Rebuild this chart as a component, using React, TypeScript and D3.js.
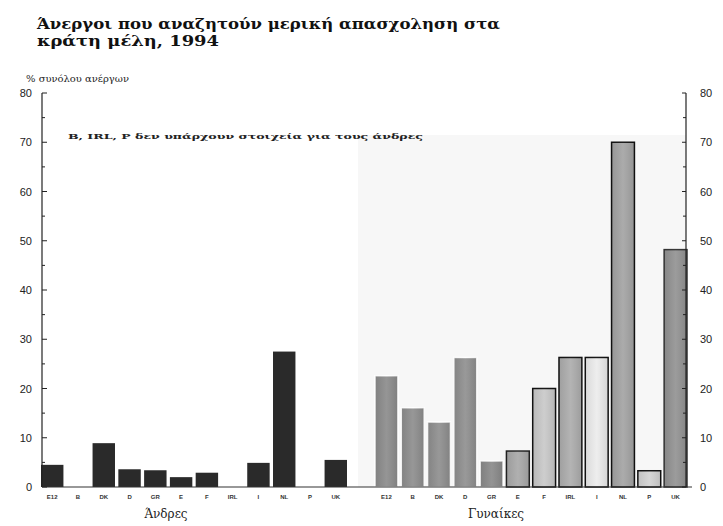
import React from "react";
import * as d3 from "d3";

const categories = ["E12", "B", "DK", "D", "GR", "E", "F", "IRL", "I", "NL", "P", "UK"];
const menValues: (number | null)[] = [4.5, null, 8.9, 3.6, 3.4, 2.0, 2.9, null, 4.9, 27.5, null, 5.5];
const womenValues = [22.6, 16.1, 13.2, 26.3, 5.3, 7.3, 20.0, 26.3, 26.3, 70.0, 3.3, 48.2];
const womenFills = ["#8c8c8c", "#8e8e8e", "#8f8f8f", "#909090", "#8a8a8a", "#a9a9a9", "#c9c9c9", "#adadad", "#ececec", "#a4a4a4", "#d2d2d2", "#939393"];
const womenStrokes = ["#ffffff", "#ffffff", "#ffffff", "#ffffff", "#ffffff", "#222222", "#111111", "#111111", "#111111", "#111111", "#111111", "#333333"];
const yTicks = [0, 10, 20, 30, 40, 50, 60, 70, 80];
const minorTicks = [5, 15, 25, 35, 45, 55, 65, 75];
const titleLines = ["Άνεργοι που αναζητούν μερική απασχοληση στα", "κράτη μέλη, 1994"];
const yAxisTitle = "% συνόλου ανέργων";
const noteText = "B, IRL, P δεν υπάρχουν στοιχεία για τους άνδρες";
const menLabel = "Άνδρες";
const womenLabel = "Γυναίκες";

export default function App() {
  const W = 723, H = 526;
  const y = d3.scaleLinear().domain([0, 80]).range([487, 93]);
  const xMen = d3.scaleBand<string>().domain(categories).range([41, 347]).paddingInner(0.13).paddingOuter(0);
  const xWomen = d3.scaleBand<string>().domain(categories).range([375, 687]).paddingInner(0.13).paddingOuter(0);
  const leftX = 42;
  const rightX = 686;
  const labelFont = "Liberation Sans, Arial, sans-serif";
  const serif = "DejaVu Serif, Liberation Serif, serif";

  return (
    <svg width={W} height={H} style={{ position: "absolute", left: 0, top: 0, background: "#fff" }}>
      <defs>
        <linearGradient id="grain" x1="0" y1="0" x2="1" y2="0">
          <stop offset="0" stopColor="#000" stopOpacity="0.08" />
          <stop offset="0.5" stopColor="#fff" stopOpacity="0.08" />
          <stop offset="1" stopColor="#000" stopOpacity="0.1" />
        </linearGradient>
      </defs>
      <rect x={0} y={0} width={W} height={H} fill="#fff" />
      {/* light panel behind women bars */}
      <rect x={358} y={135} width={rightX - 358} height={y(0) - 135} fill="#f7f7f7" />

      {/* title */}
      <text x={37} y={29} fontFamily={serif} fontWeight="bold" fontSize={15} fill="#111" textLength={463} lengthAdjust="spacingAndGlyphs">{titleLines[0]}</text>
      <text x={37} y={46} fontFamily={serif} fontWeight="bold" fontSize={15} fill="#111" textLength={182} lengthAdjust="spacingAndGlyphs">{titleLines[1]}</text>

      {/* y axis title */}
      <text x={26} y={82} fontFamily={serif} fontSize={9} fill="#222" textLength={103} lengthAdjust="spacingAndGlyphs">{yAxisTitle}</text>

      {/* note */}
      <text x={68} y={139} fontFamily={serif} fontWeight="bold" fontSize={8} fill="#222" textLength={355} lengthAdjust="spacingAndGlyphs">{noteText}</text>

      {/* men bars */}
      {categories.map((c, i) => {
        const v = menValues[i];
        if (v == null) return null;
        return <rect key={"m" + c} x={xMen(c)} y={y(v)} width={xMen.bandwidth()} height={y(0) - y(v)} fill="#2a2a2a" />;
      })}

      {/* women bars */}
      {categories.map((c, i) => {
        const v = womenValues[i];
        return (
          <g key={"w" + c}>
            <rect x={xWomen(c)} y={y(v)} width={xWomen.bandwidth()} height={y(0) - y(v)} fill={womenFills[i]} stroke={womenStrokes[i]} strokeWidth={1.5} />
            <rect x={xWomen(c)} y={y(v)} width={xWomen.bandwidth()} height={y(0) - y(v)} fill="url(#grain)" />
          </g>
        );
      })}

      {/* baselines */}
      <line x1={leftX} x2={rightX + 6} y1={y(0)} y2={y(0)} stroke="#333" strokeWidth={1.2} />

      {/* left axis */}
      <line x1={leftX} x2={leftX} y1={y(80)} y2={y(0)} stroke="#222" strokeWidth={1.2} />
      {yTicks.map((t) => (
        <g key={"lt" + t}>
          <line x1={leftX} x2={leftX + 5} y1={y(t)} y2={y(t)} stroke="#222" strokeWidth={1} />
          <text x={32} y={y(t) + 4} textAnchor="end" fontFamily={labelFont} fontSize={11} fill="#222">{t}</text>
        </g>
      ))}
      {minorTicks.map((t) => (
        <line key={"lm" + t} x1={leftX} x2={leftX + 3} y1={y(t)} y2={y(t)} stroke="#222" strokeWidth={1} />
      ))}

      {/* right axis */}
      <line x1={rightX} x2={rightX} y1={y(80)} y2={y(0)} stroke="#222" strokeWidth={1.2} />
      {yTicks.map((t) => (
        <g key={"rt" + t}>
          <line x1={rightX - 4} x2={rightX} y1={y(t)} y2={y(t)} stroke="#222" strokeWidth={1} />
          <text x={700} y={y(t) + 4} textAnchor="start" fontFamily={labelFont} fontSize={11} fill="#222">{t}</text>
        </g>
      ))}
      {minorTicks.map((t) => (
        <line key={"rm" + t} x1={rightX - 3} x2={rightX} y1={y(t)} y2={y(t)} stroke="#222" strokeWidth={1} />
      ))}

      {/* category labels */}
      {categories.map((c) => (
        <text key={"ml" + c} x={(xMen(c) as number) + xMen.bandwidth() / 2} y={499} textAnchor="middle" fontFamily={labelFont} fontWeight="bold" fontSize={6} fill="#333">{c}</text>
      ))}
      {categories.map((c) => (
        <text key={"wl" + c} x={(xWomen(c) as number) + xWomen.bandwidth() / 2} y={499} textAnchor="middle" fontFamily={labelFont} fontWeight="bold" fontSize={6} fill="#333">{c}</text>
      ))}

      {/* group labels */}
      <text x={166} y={518} textAnchor="middle" fontFamily={serif} fontSize={12} fill="#222">{menLabel}</text>
      <text x={496} y={518} textAnchor="middle" fontFamily={serif} fontSize={12} fill="#222">{womenLabel}</text>
    </svg>
  );
}
